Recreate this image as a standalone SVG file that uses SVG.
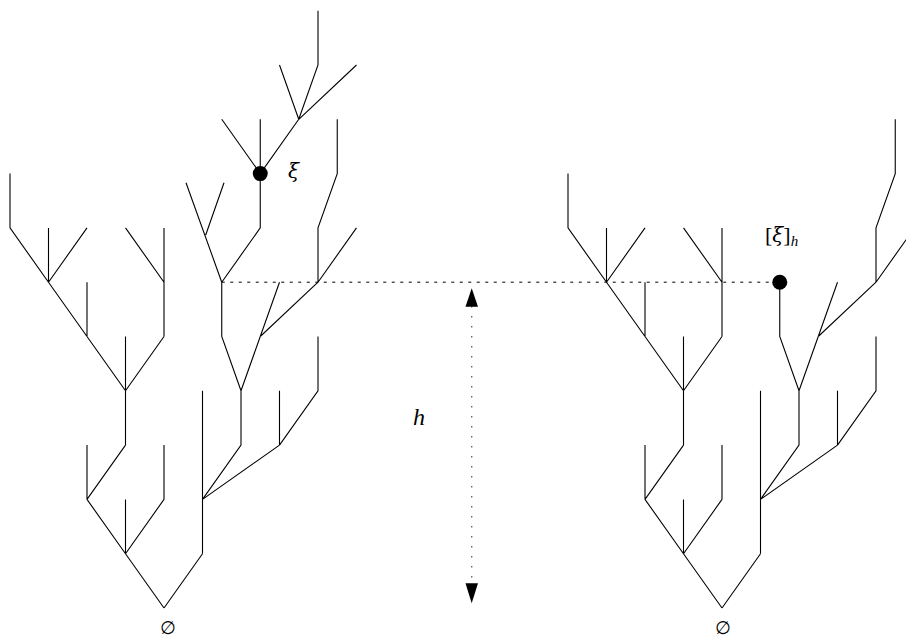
<svg xmlns="http://www.w3.org/2000/svg" xmlns:xlink="http://www.w3.org/1999/xlink" width="906" height="639" viewBox="0 0 906 639">
<style>
.e{fill:none;stroke:#000;stroke-width:1.1;stroke-linejoin:miter;stroke-linecap:butt}
.lbl{font-family:"Liberation Serif","DejaVu Serif",serif;font-style:italic;fill:#000}
.gr{font-family:"DejaVu Serif","Liberation Serif",serif;font-style:italic;fill:#000}
.up{font-style:normal}
.sym{font-family:"DejaVu Sans","Noto Sans",sans-serif;fill:#000}
.ah{fill:#000}
</style>
<defs>
<g id="base" class="e">
<path d="M164,608 L125.5,553.7 M164,608 L202.5,553.7"/>
<path d="M125.5,553.7 L87,499.4 M125.5,553.7 L125.5,499.4 M125.5,553.7 L164,499.4"/>
<path d="M87,499.4 L87,445.1 M87,499.4 L125.5,445.1 M164,499.4 L164,445.1"/>
<path d="M125.5,445.1 L125.5,390.8"/>
<path d="M125.5,390.8 L87,336.5 M125.5,390.8 L125.5,336.5 M125.5,390.8 L164,336.5"/>
<path d="M87,336.5 L48.5,282.2 M87,336.5 L87,282.2"/>
<path d="M48.5,282.2 L10,227.9 L10,173.6 M48.5,282.2 L48.5,227.9 M48.5,282.2 L87,227.9"/>
<path d="M164,336.5 L164,282.2 M164,282.2 L125.5,227.9 M164,282.2 L164,227.9"/>
<path d="M202.5,553.7 L202.5,390.8"/>
<path d="M202.5,499.4 L241,445.1 L241,390.8 M202.5,499.4 L279.5,445.1"/>
<path d="M279.5,445.1 L279.5,390.8 M279.5,445.1 L318,390.8 L318,336.5"/>
<path d="M241,390.8 L221.75,336.5 L221.75,282.2 M241,390.8 L260.25,336.5"/>
<path d="M260.25,336.5 L279.5,282.2 M260.25,336.5 L318,282.2"/>
<path d="M318,282.2 L318,227.9 L337.25,173.6 L337.25,119.3 M318,282.2 L356.5,227.9"/>
</g>
</defs>
<g id="tree-left">
<use xlink:href="#base" href="#base"/>
<g class="e">
<path d="M221.75,282.2 L186,182.7 M205.7,235 L224,182.7"/>
<path d="M221.75,282.2 L260.25,227.9 L260.25,173.6"/>
<path d="M260.25,173.6 L221.75,119.3 M260.25,173.6 L260.25,119.3 M260.25,173.6 L298.75,119.3"/>
<path d="M298.75,119.3 L279.5,65 M298.75,119.3 L318,65 L318,10.7 M298.75,119.3 L356.5,65"/>
</g>
<circle id="xi" cx="260.25" cy="173.6" r="7.5" fill="#000"/>
<text class="gr" x="288" y="178" style="font-size:20px">ξ</text>
<text class="sym" x="168" y="634" style="font-size:18px" text-anchor="middle">∅</text>
</g>
<g id="tree-right">
<use xlink:href="#base" href="#base" transform="translate(558,0)"/>
<circle id="xi-h" cx="779.75" cy="282.2" r="7.5" fill="#000"/>
<text class="lbl" x="765" y="242" style="font-size:22px"><tspan class="up">[</tspan><tspan class="gr" style="font-size:20px">ξ</tspan><tspan class="up">]</tspan><tspan style="font-size:15px" dy="4">h</tspan></text>
<text class="sym" x="723" y="634" style="font-size:18px" text-anchor="middle">∅</text>
</g>
<g id="connectors">
<line x1="221.75" y1="282.2" x2="772" y2="282.2" stroke="#000" stroke-width="1" stroke-dasharray="3 5.5"/>
<line x1="471.7" y1="306" x2="471.7" y2="584" stroke="#666" stroke-width="1.4" stroke-dasharray="1.5 8.5"/>
<polygon class="ah" points="471.7,288.3 478,306.7 465.5,306.7"/>
<polygon class="ah" points="471.7,603.3 478,583.3 465.5,583.3"/>
<text class="lbl" x="413" y="425" style="font-size:24px">h</text>
</g>
</svg>
